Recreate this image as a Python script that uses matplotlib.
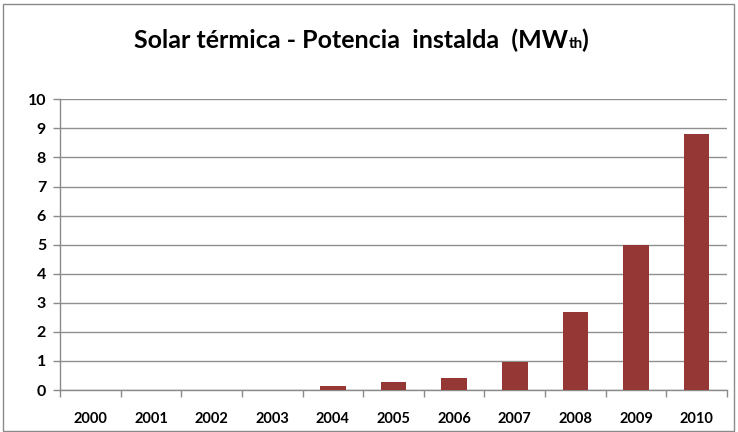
import matplotlib
matplotlib.use("Agg")
import matplotlib.pyplot as plt
from matplotlib.patches import Rectangle
import numpy as np

years = ["2000", "2001", "2002", "2003", "2004", "2005", "2006", "2007", "2008", "2009", "2010"]
values = [0, 0, 0, 0, 0.15, 0.28, 0.42, 0.98, 2.68, 5.0, 8.8]
yticks = [0, 1, 2, 3, 4, 5, 6, 7, 8, 9, 10]

W, H = 738, 432
fig = plt.figure(figsize=(W / 100, H / 100), dpi=100)
fam = ["Lato", "DejaVu Sans"]

# outer border
fig.patches.append(Rectangle((3 / W, 1 / H), 731 / W, 427 / H, transform=fig.transFigure,
                             fill=False, edgecolor="#8a8a8a", linewidth=1.0))

ax = fig.add_axes([60 / W, (H - 390) / H, 667 / W, (390 - 99.3) / H])
x = np.arange(len(years))
ax.bar(x, values, width=0.42, color="#953735", zorder=3)

ax.set_xlim(-0.5, len(years) - 0.5)
ax.set_ylim(0, 10)
ax.set_yticks(yticks)
ax.set_yticklabels([str(v) for v in yticks], fontsize=11.5, fontweight="bold", family=fam)
ax.set_xticks(np.arange(len(years) + 1) - 0.5)
ax.set_xticklabels([])
ax.set_xticks(x, minor=True)
ax.set_xticklabels(years, minor=True, fontsize=10.5, fontweight="bold", family=fam)
ax.tick_params(axis="x", which="major", length=5, color="#8a8a8a", width=1, direction="out")
ax.tick_params(axis="x", which="minor", length=0, pad=16)
ax.tick_params(axis="y", length=5, color="#8a8a8a", width=1, pad=5)
ax.grid(axis="y", color="#8f8f8f", linewidth=1.0, zorder=0)
for s in ["top", "right"]:
    ax.spines[s].set_visible(False)
for s in ["left", "bottom"]:
    ax.spines[s].set_color("#8a8a8a")
    ax.spines[s].set_linewidth(1.0)

# title with small "th"
renderer = fig.canvas.get_renderer()
yb = (H - 48) / H
parts = [("Solar térmica - Potencia  instalda  (MW", 18, 1.0), ("th", 11, -1.5), (")", 18, 0)]
xcur = 134 / W
for txt, fs, gap in parts:
    t = fig.text(xcur, yb, txt, fontsize=fs, fontweight="bold", family=fam,
                 ha="left", va="baseline")
    bb = t.get_window_extent(renderer)
    xcur = (bb.x1 + gap) / W

fig.savefig("out.png", dpi=100)
